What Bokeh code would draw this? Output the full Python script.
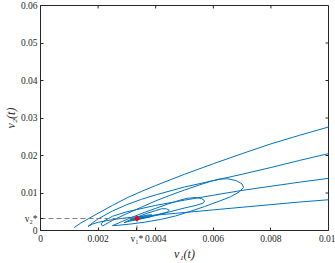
from bokeh.plotting import figure
from bokeh.models import FixedTicker, Range1d
from bokeh.embed import file_html
from bokeh.resources import INLINE

# equilibrium
v1_star = 0.00335
v2_star = 0.0032

# trajectory (v1, v2)
traj_v1 = [
    0.00117, 0.0014, 0.0017, 0.0020, 0.0025, 0.0030, 0.0035, 0.0040, 0.0050, 0.0060, 0.0070, 0.0080, 0.0090, 0.0100, 0.0110, 0.0120, 0.0130, 0.0137, 0.0138, 0.0130,
    0.0120, 0.0110, 0.0100, 0.0090, 0.0080, 0.0070, 0.0060, 0.0050, 0.0040, 0.0030, 0.0025, 0.0020, 0.0018, 0.00165,
    0.0018, 0.0020, 0.0025, 0.0030, 0.0035, 0.0040, 0.0050, 0.0060, 0.0070, 0.0080, 0.0090, 0.0100, 0.0110, 0.0120, 0.0127, 0.0128, 0.0122,
    0.0110, 0.0100, 0.0090, 0.0080, 0.0070, 0.0060, 0.0050, 0.0040, 0.0030, 0.0025, 0.0022, 0.0021, 0.00215,
    0.0025, 0.0030, 0.0035, 0.0040, 0.0045, 0.0050, 0.0055, 0.0059, 0.0062, 0.0065, 0.0068, 0.0070, 0.00705, 0.0069, 0.0066, 0.0062, 0.0057, 0.0052, 0.0047, 0.0042, 0.0036, 0.0031, 0.0027, 0.0025,
    0.0028, 0.0032, 0.0036, 0.0040, 0.0044, 0.0048, 0.0051, 0.0054, 0.0056, 0.0057, 0.00565, 0.0054, 0.0050, 0.0045, 0.0040, 0.0035, 0.0031, 0.0029,
    0.0031, 0.0034, 0.0037, 0.0040, 0.0042, 0.00437, 0.00447, 0.0044, 0.0042, 0.0039, 0.0036, 0.0033, 0.0031,
    0.0033, 0.0035, 0.0037, 0.00385, 0.0039, 0.0038, 0.0036, 0.0034, 0.0032,
    0.0034, 0.0036, 0.0037, 0.0036, 0.0035, 0.0034, 0.0033, 0.00335,
]
traj_v2 = [
    0.0008, 0.0020, 0.0033, 0.0046, 0.0067, 0.0087, 0.0104, 0.0120, 0.0150, 0.0178, 0.0205, 0.0231, 0.0254, 0.0276, 0.0297, 0.0316, 0.0330, 0.0320, 0.0150, 0.0100,
    0.0094, 0.0088, 0.0082, 0.0076, 0.0069, 0.0062, 0.0055, 0.0048, 0.0041, 0.0034, 0.0029, 0.0022, 0.0017, 0.0011,
    0.0020, 0.0031, 0.0052, 0.0069, 0.0083, 0.0095, 0.0116, 0.0133, 0.0150, 0.0168, 0.0187, 0.0205, 0.0222, 0.0238, 0.0240, 0.0190, 0.0160,
    0.0149, 0.0139, 0.0129, 0.0118, 0.0107, 0.0094, 0.0081, 0.0067, 0.0050, 0.0038, 0.0025, 0.0018, 0.0012,
    0.0027, 0.0045, 0.0062, 0.0079, 0.0094, 0.0108, 0.0121, 0.0131, 0.0137, 0.0138, 0.0133, 0.0124, 0.0115, 0.0103, 0.0090, 0.0078, 0.0064, 0.0051, 0.0039, 0.0030, 0.0022, 0.0017, 0.0014, 0.0013,
    0.0023, 0.0036, 0.0048, 0.0059, 0.0070, 0.0080, 0.0086, 0.0088, 0.0085, 0.0079, 0.0073, 0.0067, 0.0060, 0.0050, 0.0040, 0.0031, 0.0025, 0.0021,
    0.0028, 0.0037, 0.0046, 0.0053, 0.0058, 0.0058, 0.0054, 0.0049, 0.0045, 0.0040, 0.0035, 0.0030, 0.0027,
    0.0032, 0.0037, 0.0041, 0.0042, 0.0039, 0.0036, 0.0034, 0.0031, 0.0029,
    0.0033, 0.0036, 0.0036, 0.0034, 0.0032, 0.0031, 0.0031, 0.0032,
]

x_ticks = [0, 0.002, v1_star, 0.004, 0.006, 0.008, 0.01]
x_tick_labels = ["0", "0.002", "v\u2081*", "0.004", "0.006", "0.008", "0.01"]
y_ticks = [0, v2_star, 0.01, 0.02, 0.03, 0.04, 0.05, 0.06]
y_tick_labels = ["0", "v\u2082*", "0.01", "0.02", "0.03", "0.04", "0.05", "0.06"]
box_ticks_x = [0, 0.002, 0.004, 0.006, 0.008, 0.01]
box_ticks_y = [0, 0.01, 0.02, 0.03, 0.04, 0.05, 0.06]

X_MIN, X_MAX = 0, 0.01
Y_MIN, Y_MAX = 0, 0.06
AX = "#262626"
FONT = "Liberation Serif"

p = figure(width=335, height=263, x_range=Range1d(X_MIN, X_MAX), y_range=Range1d(Y_MIN, Y_MAX),
           output_backend="svg", toolbar_location=None,
           min_border_left=30, min_border_right=7, min_border_top=5, min_border_bottom=26)
p.grid.visible = False
p.outline_line_color = AX
p.outline_line_width = 1

p.xaxis.ticker = FixedTicker(ticks=x_ticks)
p.xaxis.major_label_overrides = {t: l for t, l in zip(x_ticks, x_tick_labels)}
p.yaxis.ticker = FixedTicker(ticks=y_ticks)
p.yaxis.major_label_overrides = {t: l for t, l in zip(y_ticks, y_tick_labels)}
p.xaxis.axis_label = "v\u2081(t)"
p.yaxis.axis_label = "v\u2082(t)"

for ax in (p.xaxis[0], p.yaxis[0]):
    ax.axis_line_color = AX
    ax.major_tick_line_color = AX
    ax.major_tick_in = 3
    ax.major_tick_out = 0
    ax.minor_tick_in = 0
    ax.minor_tick_out = 0
    ax.major_label_text_font = FONT
    ax.major_label_text_font_size = "9.5px"
    ax.major_label_text_line_height = 1.0
    ax.major_label_text_color = AX
    ax.axis_label_text_font = FONT
    ax.axis_label_text_font_style = "italic"
    ax.axis_label_text_font_size = "12px"
    ax.axis_label_text_line_height = 1.0
    ax.axis_label_text_color = AX
p.xaxis.major_label_standoff = 3
p.xaxis.axis_label_standoff = 0
p.yaxis.major_label_standoff = 3
p.yaxis.axis_label_standoff = 0

# inward ticks on the top and right edges of the box
tick_len_x = (X_MAX - X_MIN) * 3 / 290
tick_len_y = (Y_MAX - Y_MIN) * 3 / 228
p.segment(x0=box_ticks_x, x1=box_ticks_x, y0=[Y_MAX] * len(box_ticks_x),
          y1=[Y_MAX - tick_len_y] * len(box_ticks_x), line_color=AX, line_width=1)
p.segment(x0=[X_MAX] * len(box_ticks_y), x1=[X_MAX - tick_len_x] * len(box_ticks_y),
          y0=box_ticks_y, y1=box_ticks_y, line_color=AX, line_width=1)

p.line(traj_v1, traj_v2, line_color="#0072BD", line_width=1)
p.line([0, v1_star], [v2_star, v2_star], line_color="#808080", line_width=1, line_dash="5 3")
p.line([v1_star, v1_star], [0, v2_star], line_color="#808080", line_width=1, line_dash="5 3")
p.scatter([v1_star], [v2_star], size=4, fill_color="red", line_color="red")

open("out.html", "w").write(file_html(p, INLINE))
